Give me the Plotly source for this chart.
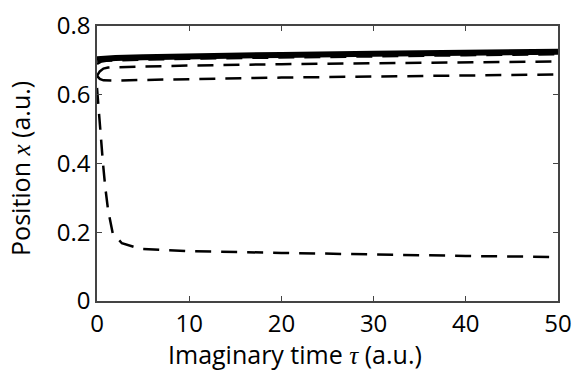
import plotly.graph_objects as go

tau_solid = [0, 0.5, 1, 2, 5, 10, 20, 30, 40, 50]
x_solid = [0.703, 0.705, 0.706, 0.707, 0.709, 0.712, 0.716, 0.719, 0.722, 0.725]

tau_d1 = [0, 0.5, 1, 2, 5, 10, 20, 30, 40, 50]
x_d1 = [0.69, 0.697, 0.699, 0.700, 0.702, 0.705, 0.709, 0.712, 0.715, 0.718]

tau_d2 = [0, 0.3, 0.7, 1.2, 2, 5, 10, 20, 30, 40, 50]
x_d2 = [0.655, 0.668, 0.676, 0.679, 0.680, 0.682, 0.685, 0.689, 0.692, 0.695, 0.697]

tau_d3 = [0, 0.3, 0.7, 1.2, 2, 5, 10, 20, 30, 40, 50]
x_d3 = [0.655, 0.646, 0.642, 0.641, 0.641, 0.643, 0.646, 0.650, 0.653, 0.656, 0.659]

tau_d4 = [0, 0.1, 0.35, 0.65, 0.9, 1.2, 1.7, 2.7, 4.7, 10, 20, 30, 40, 50]
x_d4 = [0.62, 0.585, 0.49, 0.40, 0.33, 0.265, 0.198, 0.168, 0.152, 0.145, 0.140, 0.135, 0.131, 0.128]

x_ticks = [0, 10, 20, 30, 40, 50]
y_ticks = [0, 0.2, 0.4, 0.6, 0.8]
y_tick_text = ["0", "0.2", "0.4", "0.6", "0.8"]

x_title = "Imaginary time <span style=\"font-family:'Liberation Serif',serif\"><i>τ</i></span> (a.u.)"
y_title = "Position <span style=\"font-family:'Liberation Serif',serif\"><i>x</i></span> (a.u.)"

fig = go.Figure()
dash_style = "16px,10px"
for t, v in [(tau_d1, x_d1), (tau_d2, x_d2), (tau_d3, x_d3), (tau_d4, x_d4)]:
    fig.add_trace(go.Scatter(x=t, y=v, mode="lines", line=dict(color="black", width=2.5, dash=dash_style), showlegend=False))
fig.add_trace(go.Scatter(x=tau_solid, y=x_solid, mode="lines", line=dict(color="black", width=6), showlegend=False))

font_fam = "Open Sans, Noto Sans, sans-serif"
fig.update_layout(
    width=577, height=370,
    margin=dict(l=97, r=19, t=26, b=69),
    plot_bgcolor="white", paper_bgcolor="white",
    font=dict(family=font_fam, color="black", size=20),
    showlegend=False,
    annotations=[
        dict(text=x_title, xref="paper", yref="paper", x=0.4295, y=-0.193,
             xanchor="center", yanchor="middle", showarrow=False, font=dict(size=25)),
        dict(text=y_title, xref="paper", yref="paper", x=-0.166, y=0.482,
             xanchor="center", yanchor="middle", showarrow=False, textangle=-90, font=dict(size=25)),
    ],
)
fig.update_xaxes(
    range=[0, 50], tickvals=x_ticks, ticks="inside", ticklen=5, tickcolor="#444",
    showline=True, linecolor="#444", linewidth=1.5, mirror="ticks", showgrid=False, zeroline=False,
    tickfont=dict(size=24), automargin=False,
)
fig.update_yaxes(
    range=[0, 0.8], tickvals=y_ticks, ticktext=y_tick_text, ticks="inside", ticklen=5, tickcolor="#444",
    showline=True, linecolor="#444", linewidth=1.5, mirror="ticks", showgrid=False, zeroline=False,
    tickfont=dict(size=24), automargin=False,
)
fig.write_html("out.html", config={"displayModeBar": False},
               post_script="document.body.style.margin='0';")
